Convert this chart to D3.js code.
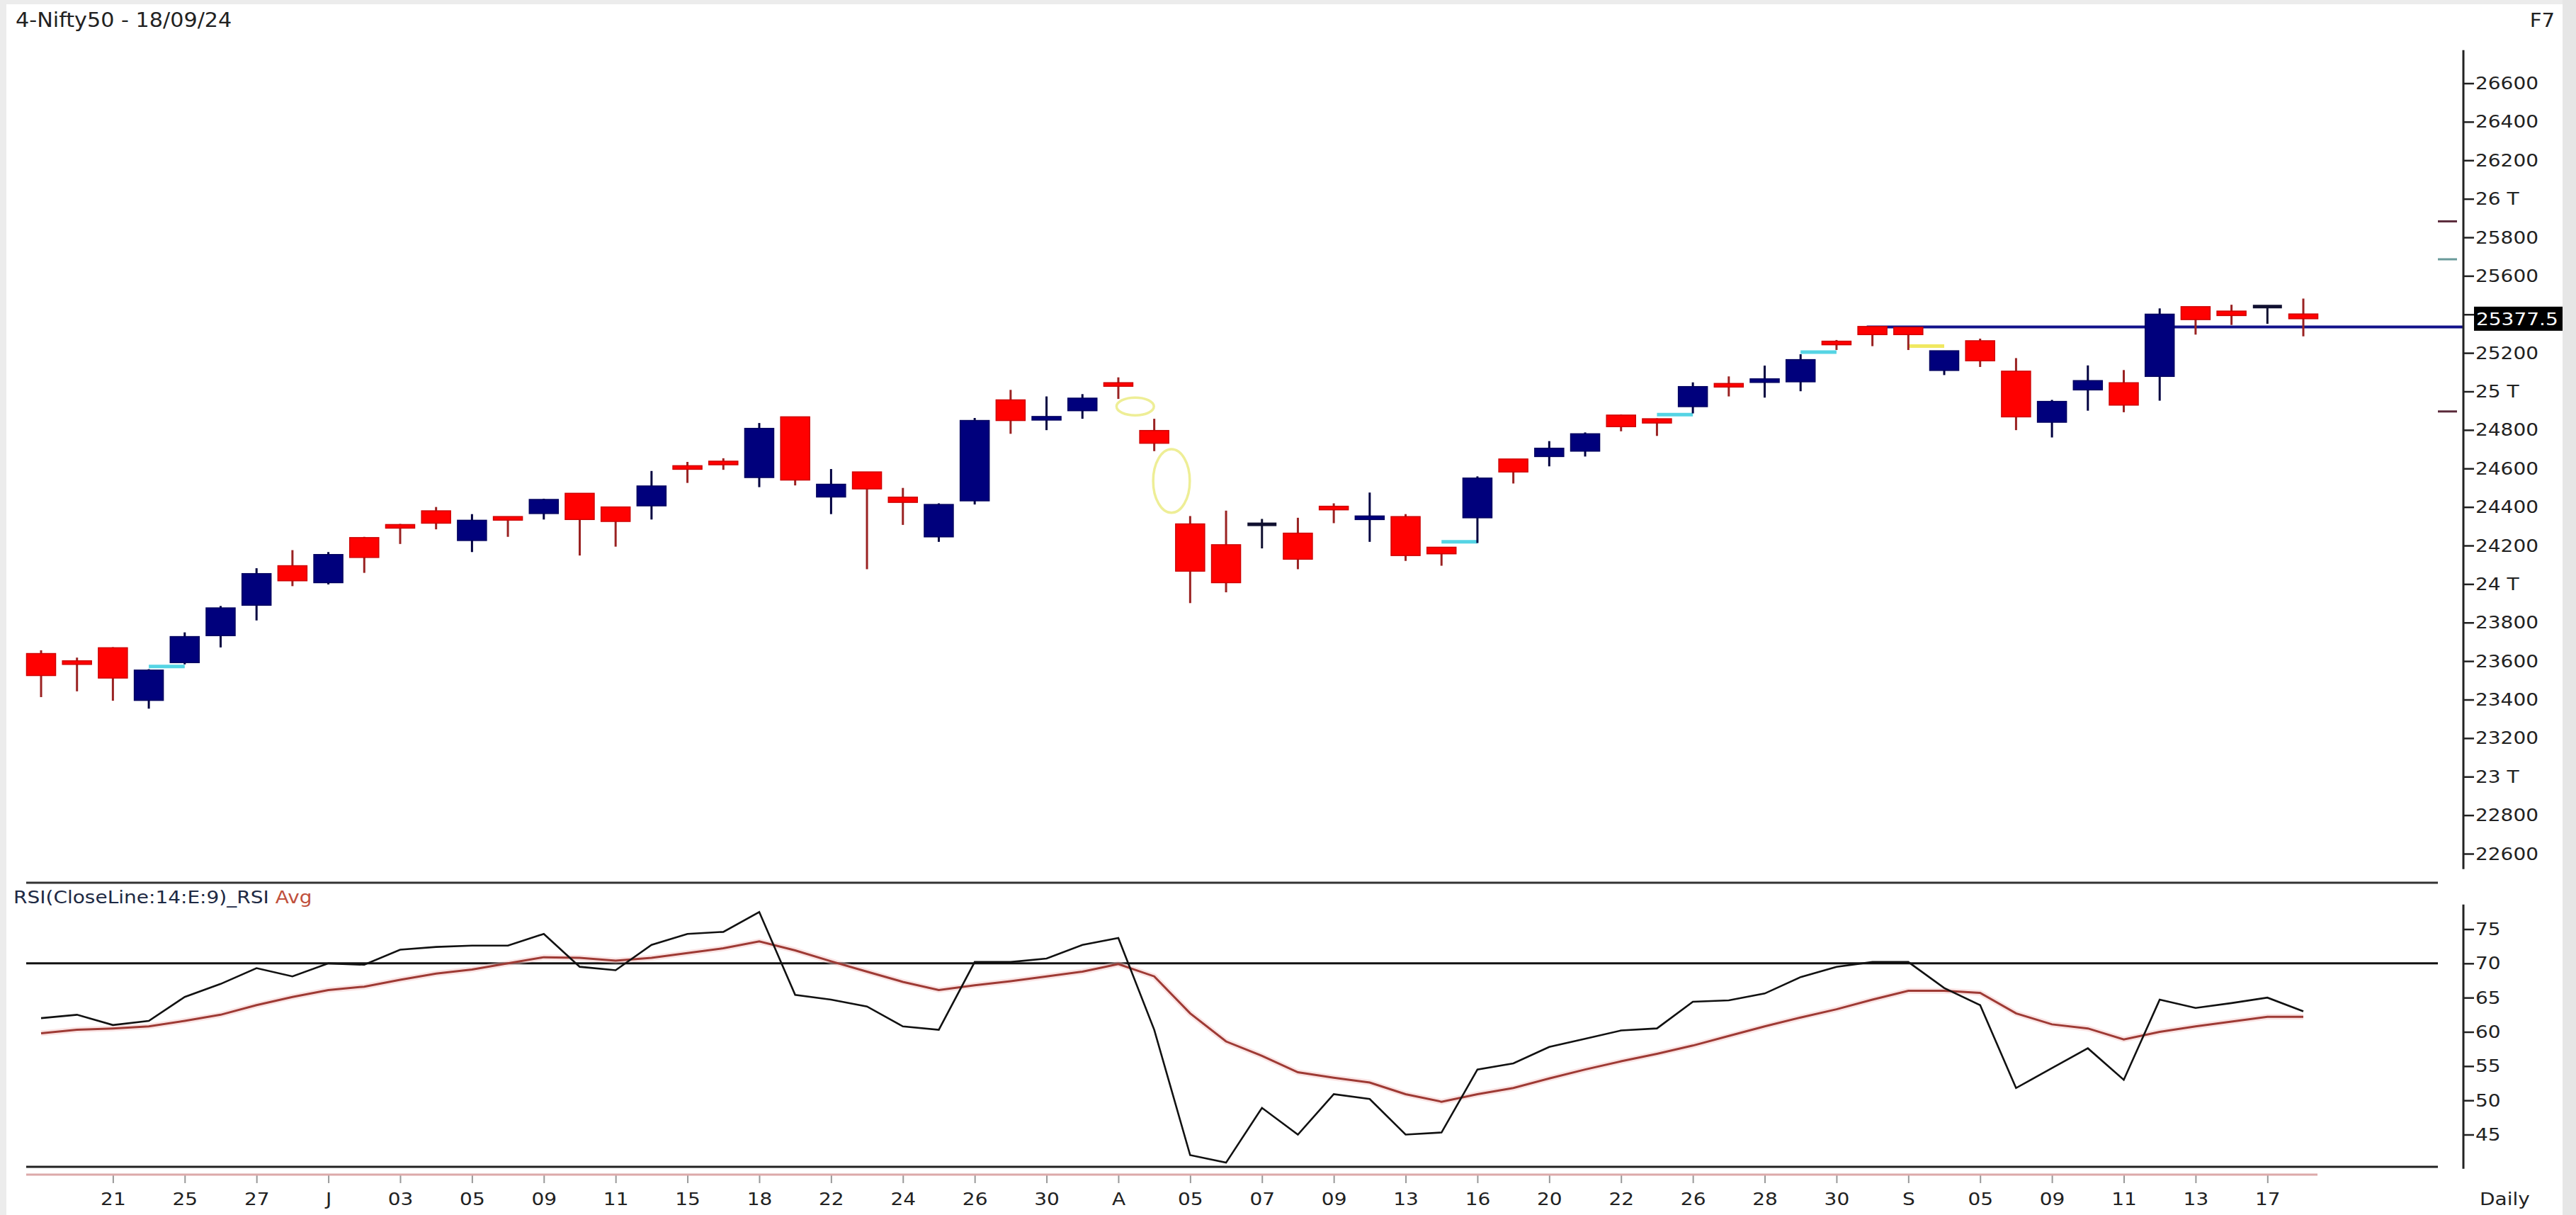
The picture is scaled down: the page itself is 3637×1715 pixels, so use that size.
<!DOCTYPE html>
<html><head><meta charset="utf-8">
<script src="https://cdn.jsdelivr.net/npm/d3@7"></script>
<style>
html,body{margin:0;padding:0;background:#ececec;}
svg{display:block;}
text{font-family:"DejaVu Sans",Verdana,sans-serif;}
</style></head>
<body>
<svg id="chart" width="3637" height="1715"></svg>
<script>
// ---------------- DATA ----------------
const dates = ["2024-06-19","2024-06-20","2024-06-21","2024-06-24","2024-06-25","2024-06-26","2024-06-27","2024-06-28",
"2024-07-01","2024-07-02","2024-07-03","2024-07-04","2024-07-05","2024-07-08","2024-07-09","2024-07-10","2024-07-11","2024-07-12",
"2024-07-15","2024-07-16","2024-07-18","2024-07-19","2024-07-22","2024-07-23","2024-07-24","2024-07-25","2024-07-26",
"2024-07-29","2024-07-30","2024-07-31","2024-08-01","2024-08-02","2024-08-05","2024-08-06","2024-08-07","2024-08-08","2024-08-09",
"2024-08-12","2024-08-13","2024-08-14","2024-08-16","2024-08-19","2024-08-20","2024-08-21","2024-08-22","2024-08-23",
"2024-08-26","2024-08-27","2024-08-28","2024-08-29","2024-08-30","2024-09-02","2024-09-03","2024-09-04","2024-09-05","2024-09-06",
"2024-09-09","2024-09-10","2024-09-11","2024-09-12","2024-09-13","2024-09-16","2024-09-17","2024-09-18"];

const opens  = [23639,23597,23669,23396,23592,23732,23890,24095,24007,24241,24303,24380,24226,24344,24366,24471,24400,24406,24610,24632,
24553,24868,24452,24582,24451,24245,24432,24956,24853,24900,25042,24797,24312,24204,24308,24264,24402,24338,24350,24191,
24344,24649,24662,24690,24877,24858,24921,25036,25050,25050,25257,25337,25333,25109,25263,25105,24840,25008,25045,25078,
25440,25417,25440,25402];
const highs  = [23656,23618,23672,23558,23749,23886,24082,24176,24166,24245,24312,24400,24363,24347,24443,24471,24400,24587,24634,24653,
24836,24868,24597,24582,24499,24419,24862,25008,24974,24986,25073,24858,24353,24381,24338,24344,24419,24475,24363,24191,
24559,24649,24742,24787,24880,24860,25047,25078,25134,25193,25267,25337,25333,25211,25274,25173,24956,25135,25111,25431,
25440,25450,25441,25482];
const lows   = [23413,23443,23394,23353,23583,23671,23811,23989,23998,24058,24208,24284,24166,24245,24335,24148,24194,24335,24525,24593,
24503,24512,24363,24077,24307,24219,24413,24780,24799,24858,24961,24690,23901,23957,24185,24077,24316,24219,24120,24095,
24213,24522,24611,24662,24793,24769,24886,24974,24968,25001,25215,25235,25215,25085,25127,24799,24761,24900,24892,24952,
25295,25345,25351,25286];
const closes = [23525,23587,23512,23553,23727,23876,24054,24017,24153,24138,24296,24316,24331,24338,24439,24335,24325,24509,24600,24625,
24808,24540,24518,24494,24424,24413,24849,24849,24868,24965,25030,24731,24067,24007,24312,24129,24387,24350,24148,24157,
24550,24582,24705,24780,24817,24836,25025,25028,25062,25165,25246,25295,25295,25211,25159,24868,24948,25056,24929,25401,
25373,25394,25441,25377.5];

const rsiValues = [62.0,62.5,61.0,61.6,65.1,67.0,69.3,68.1,70.0,69.8,72.0,72.4,72.6,72.6,74.3,69.5,69.0,72.7,74.3,74.6,
77.5,65.4,64.7,63.7,60.8,60.3,70.2,70.2,70.7,72.7,73.7,60.3,42.0,40.9,48.9,45.0,50.9,50.2,45.0,45.3,
54.5,55.4,57.8,59.0,60.2,60.5,64.4,64.6,65.6,68.0,69.5,70.2,70.2,66.4,63.9,51.8,54.7,57.6,53.0,64.7,
63.5,64.2,65.0,63.0];
const rsiAvg = [59.8,60.3,60.5,60.8,61.6,62.5,63.9,65.1,66.1,66.6,67.6,68.5,69.1,70.0,70.9,70.8,70.4,70.8,71.5,72.2,
73.2,71.9,70.3,68.8,67.3,66.1,66.8,67.4,68.1,68.8,69.9,68.1,62.7,58.6,56.5,54.1,53.3,52.6,50.9,49.8,
50.9,51.8,53.2,54.5,55.7,56.8,58.0,59.4,60.8,62.1,63.3,64.7,66.0,66.0,65.7,62.7,61.1,60.5,58.9,60.0,
60.8,61.5,62.2,62.2];

const xTickIndex  = [2,4,6,8,10,12,14,16,18,20,22,24,26,28,30,32,34,36,38,40,42,44,46,48,50,52,54,56,58,60,62];
const xTickLabels = ["21","25","27","J","03","05","09","11","15","18","22","24","26","30","A","05","07","09","13","16","20","22","26","28","30","S","05","09","11","13","17"];

// 25400 tick label is hidden behind the last-price box in the reference
const priceTicks = [22600,22800,23000,23200,23400,23600,23800,24000,24200,24400,24600,24800,25000,25200,25400,25600,25800,26000,26200,26400,26600];
const priceTickLabels = ["22600","22800","23 T","23200","23400","23600","23800","24 T","24200","24400","24600","24800","25 T","25200","","25600","25800","26 T","26200","26400","26600"];
const rsiTicks = [45,50,55,60,65,70,75];
const rsiTickLabels = ["45","50","55","60","65","70","75"];

// gap markers (from candle index to next candle), price level
const gapIndex  = [3,39,45,49,52];
const gapPrice  = [23572,24219,24880,25204,25235];
const gapKind   = ["up","up","up","up","down"];

// small level markers left of the price axis
const markerPrices = [25883,25686,24896];
const markerKind   = ["a","b","a"];

// horizontal support/resistance line
const levelPrice = 25335;
const levelStartIndex = 51;

const rsiLevel = 70;
const lastClose = 25377.5;

// yellow hand-drawn ellipses: centre index, centre price, half-width (index units), half-height (price units)
const ellipseIndex = [30.47, 31.48];
const ellipsePrice = [24922, 24535];
const ellipseRx    = [0.52, 0.51];
const ellipseRy    = [46, 165];

// ---------------- LAYOUT ----------------
const W = 3637, H = 1715;
const axisX = 3478;
const lineLeft = 37, lineRight = 3442;
const svg = d3.select("#chart");

const x = d3.scaleLinear().domain([0, 63]).range([58, 3252]);
const y = d3.scaleLinear().domain([22600, 26600]).range([1205, 117.5]);
const ry = d3.scaleLinear().domain([45, 75]).range([1601.5, 1311.5]);

const RED = "#ff0000", RED_EDGE = "#d00000", RED_WICK = "#9a2222";
const NAVY = "#00007c", NAVY_WICK = "#000040";
const SX = 1.12; // horizontal text stretch

// white plot area
svg.append("rect").attr("x", 0).attr("y", 0).attr("width", W).attr("height", H).attr("fill", "#ffffff");

// title
svg.append("text").attr("transform", `translate(22,38) scale(1.08,1)`)
  .attr("font-size", 28).attr("fill", "#222").text("4-Nifty50 - 18/09/24");
svg.append("text").attr("transform", `translate(3607,38) scale(1.08,1)`).attr("text-anchor", "end")
  .attr("font-size", 27).attr("fill", "#222").text("F7");

// ---------- price panel ----------
const pricePanel = svg.append("g");

// yellow ellipses
pricePanel.selectAll("ellipse.ann").data(ellipseIndex).join("ellipse")
  .attr("class", "ann")
  .attr("cx", (d) => x(d))
  .attr("cy", (d, i) => y(ellipsePrice[i]))
  .attr("rx", (d, i) => x(d + ellipseRx[i]) - x(d))
  .attr("ry", (d, i) => y(ellipsePrice[i] - ellipseRy[i]) - y(ellipsePrice[i]))
  .attr("fill", "none").attr("stroke", "#eeee96").attr("stroke-width", 3.5);

// gap lines
pricePanel.selectAll("line.gap").data(gapIndex).join("line")
  .attr("class", "gap")
  .attr("x1", (d) => x(d)).attr("x2", (d) => x(d + 1))
  .attr("y1", (d, i) => y(gapPrice[i])).attr("y2", (d, i) => y(gapPrice[i]))
  .attr("stroke", (d, i) => gapKind[i] === "up" ? "#55d4e4" : "#f0e860")
  .attr("stroke-width", 5);

// level line
pricePanel.append("line")
  .attr("x1", x(levelStartIndex) - 8).attr("x2", axisX)
  .attr("y1", y(levelPrice)).attr("y2", y(levelPrice))
  .attr("stroke", "#12128a").attr("stroke-width", 4);

// candles
const idx = d3.range(opens.length);
const bodyW = 41;
const isDoji = (i) => Math.abs(closes[i] - opens[i]) < 5;
const candleColor = (i) => isDoji(i) ? "#101030" : (closes[i] >= opens[i] ? NAVY : RED);
const wickColor = (i) => isDoji(i) ? "#101030" : (closes[i] >= opens[i] ? NAVY_WICK : RED_WICK);

const cg = pricePanel.selectAll("g.candle").data(idx).join("g").attr("class", "candle");
cg.append("line")
  .attr("x1", (i) => x(i)).attr("x2", (i) => x(i))
  .attr("y1", (i) => y(highs[i])).attr("y2", (i) => y(lows[i]))
  .attr("stroke", wickColor).attr("stroke-width", 3);
cg.append("rect")
  .attr("x", (i) => x(i) - bodyW / 2)
  .attr("width", bodyW)
  .attr("y", (i) => {
    const top = y(Math.max(opens[i], closes[i])), bot = y(Math.min(opens[i], closes[i]));
    const h = Math.max(bot - top, 5);
    return (top + bot) / 2 - h / 2;
  })
  .attr("height", (i) => Math.max(y(Math.min(opens[i], closes[i])) - y(Math.max(opens[i], closes[i])), 5))
  .attr("fill", candleColor)
  .attr("stroke", (i) => isDoji(i) ? "none" : (closes[i] >= opens[i] ? "#000060" : RED_EDGE))
  .attr("stroke-width", 1.5);

// level markers left of axis
pricePanel.selectAll("line.mk").data(markerPrices).join("line")
  .attr("class", "mk")
  .attr("x1", 3442).attr("x2", 3469)
  .attr("y1", (d) => y(d)).attr("y2", (d) => y(d))
  .attr("stroke", (d, i) => markerKind[i] === "a" ? "#5a2a3a" : "#6a9a9a")
  .attr("stroke-width", 3);

// price axis
svg.append("line").attr("x1", axisX).attr("x2", axisX)
  .attr("y1", y(26772)).attr("y2", y(22520))
  .attr("stroke", "#222").attr("stroke-width", 3);
const pAxis = svg.append("g").attr("transform", `translate(${axisX},0)`)
  .call(d3.axisRight(y).tickValues(priceTicks).tickSize(15).tickPadding(2)
    .tickFormat((d, i) => priceTickLabels[i]));
pAxis.select(".domain").remove();
pAxis.selectAll(".tick line").attr("stroke", "#222").attr("stroke-width", 2.5);
pAxis.selectAll(".tick text").attr("font-size", 25).attr("fill", "#222")
  .attr("font-family", "DejaVu Sans, Verdana, sans-serif")
  .attr("x", null).attr("transform", `translate(17,0) scale(${SX},1)`);

// last close label
const lc = svg.append("g").attr("transform", `translate(3493,${y(lastClose)})`);
lc.append("rect").attr("x", 0).attr("y", -17).attr("width", 130).attr("height", 34).attr("fill", "#000");
lc.append("text").attr("transform", `translate(3,0) scale(${SX},1)`).attr("dy", "0.35em")
  .attr("font-size", 25).attr("fill", "#fff").text(d3.format(".1f")(lastClose));

// panel separator
svg.append("line").attr("x1", lineLeft).attr("x2", lineRight).attr("y1", 1246).attr("y2", 1246)
  .attr("stroke", "#333").attr("stroke-width", 3);

// ---------- RSI panel ----------
svg.append("text").attr("transform", `translate(19,1275) scale(${SX},1)`).attr("font-size", 25)
  .call((t) => {
    t.append("tspan").attr("fill", "#1e2a44").text("RSI(CloseLine:14:E:9)_RSI ");
    t.append("tspan").attr("fill", "#c0503c").text("Avg");
  });

svg.append("line").attr("x1", lineLeft).attr("x2", lineRight)
  .attr("y1", ry(rsiLevel)).attr("y2", ry(rsiLevel))
  .attr("stroke", "#111").attr("stroke-width", 3);
svg.append("line").attr("x1", lineLeft).attr("x2", lineRight)
  .attr("y1", ry(40.3)).attr("y2", ry(40.3))
  .attr("stroke", "#222").attr("stroke-width", 3);

const rsiLine = d3.line().x((d, i) => x(i)).y((d) => ry(d));
svg.append("path").attr("d", rsiLine(rsiAvg)).attr("fill", "none")
  .attr("stroke", "#f4c4c4").attr("stroke-width", 8).attr("opacity", 0.45);
svg.append("path").attr("d", rsiLine(rsiAvg)).attr("fill", "none")
  .attr("stroke", "#9e3a34").attr("stroke-width", 3);
svg.append("path").attr("d", rsiLine(rsiValues)).attr("fill", "none")
  .attr("stroke", "#111").attr("stroke-width", 2.6);

// RSI axis
svg.append("line").attr("x1", axisX).attr("x2", axisX)
  .attr("y1", ry(78.6)).attr("y2", ry(40.0))
  .attr("stroke", "#222").attr("stroke-width", 3);
const rAxis = svg.append("g").attr("transform", `translate(${axisX},0)`)
  .call(d3.axisRight(ry).tickValues(rsiTicks).tickSize(15).tickPadding(2)
    .tickFormat((d, i) => rsiTickLabels[i]));
rAxis.select(".domain").remove();
rAxis.selectAll(".tick line").attr("stroke", "#222").attr("stroke-width", 2.5);
rAxis.selectAll(".tick text").attr("font-size", 25).attr("fill", "#222")
  .attr("font-family", "DejaVu Sans, Verdana, sans-serif")
  .attr("x", null).attr("transform", `translate(17,0) scale(${SX},1)`);

// date axis
const xAxisY = 1658;
const xg = svg.append("g").attr("transform", `translate(0,${xAxisY})`)
  .call(d3.axisBottom(x).tickValues(xTickIndex).tickSize(12).tickPadding(13)
    .tickFormat((d, i) => xTickLabels[i]));
xg.select(".domain").remove();
svg.append("line").attr("x1", lineLeft).attr("x2", x(63) + 20).attr("y1", xAxisY).attr("y2", xAxisY)
  .attr("stroke", "#dcaaaa").attr("stroke-width", 3);
xg.selectAll(".tick line").attr("stroke", "#999").attr("stroke-width", 2);
xg.selectAll(".tick text").attr("font-size", 25).attr("fill", "#222")
  .attr("font-family", "DejaVu Sans, Verdana, sans-serif")
  .attr("transform", `scale(${SX},1)`);

svg.append("text").attr("transform", `translate(3501,1701) scale(${SX},1)`).attr("font-size", 25)
  .attr("fill", "#222").text("Daily");

// frame (light gray border)
svg.append("rect").attr("x", 0).attr("y", 0).attr("width", 9).attr("height", H).attr("fill", "#ececec");
svg.append("rect").attr("x", 0).attr("y", 0).attr("width", W).attr("height", 6).attr("fill", "#ececec");
svg.append("rect").attr("x", 3618).attr("y", 0).attr("width", W - 3618).attr("height", H).attr("fill", "#e6e6e6");
</script>
</body></html>
